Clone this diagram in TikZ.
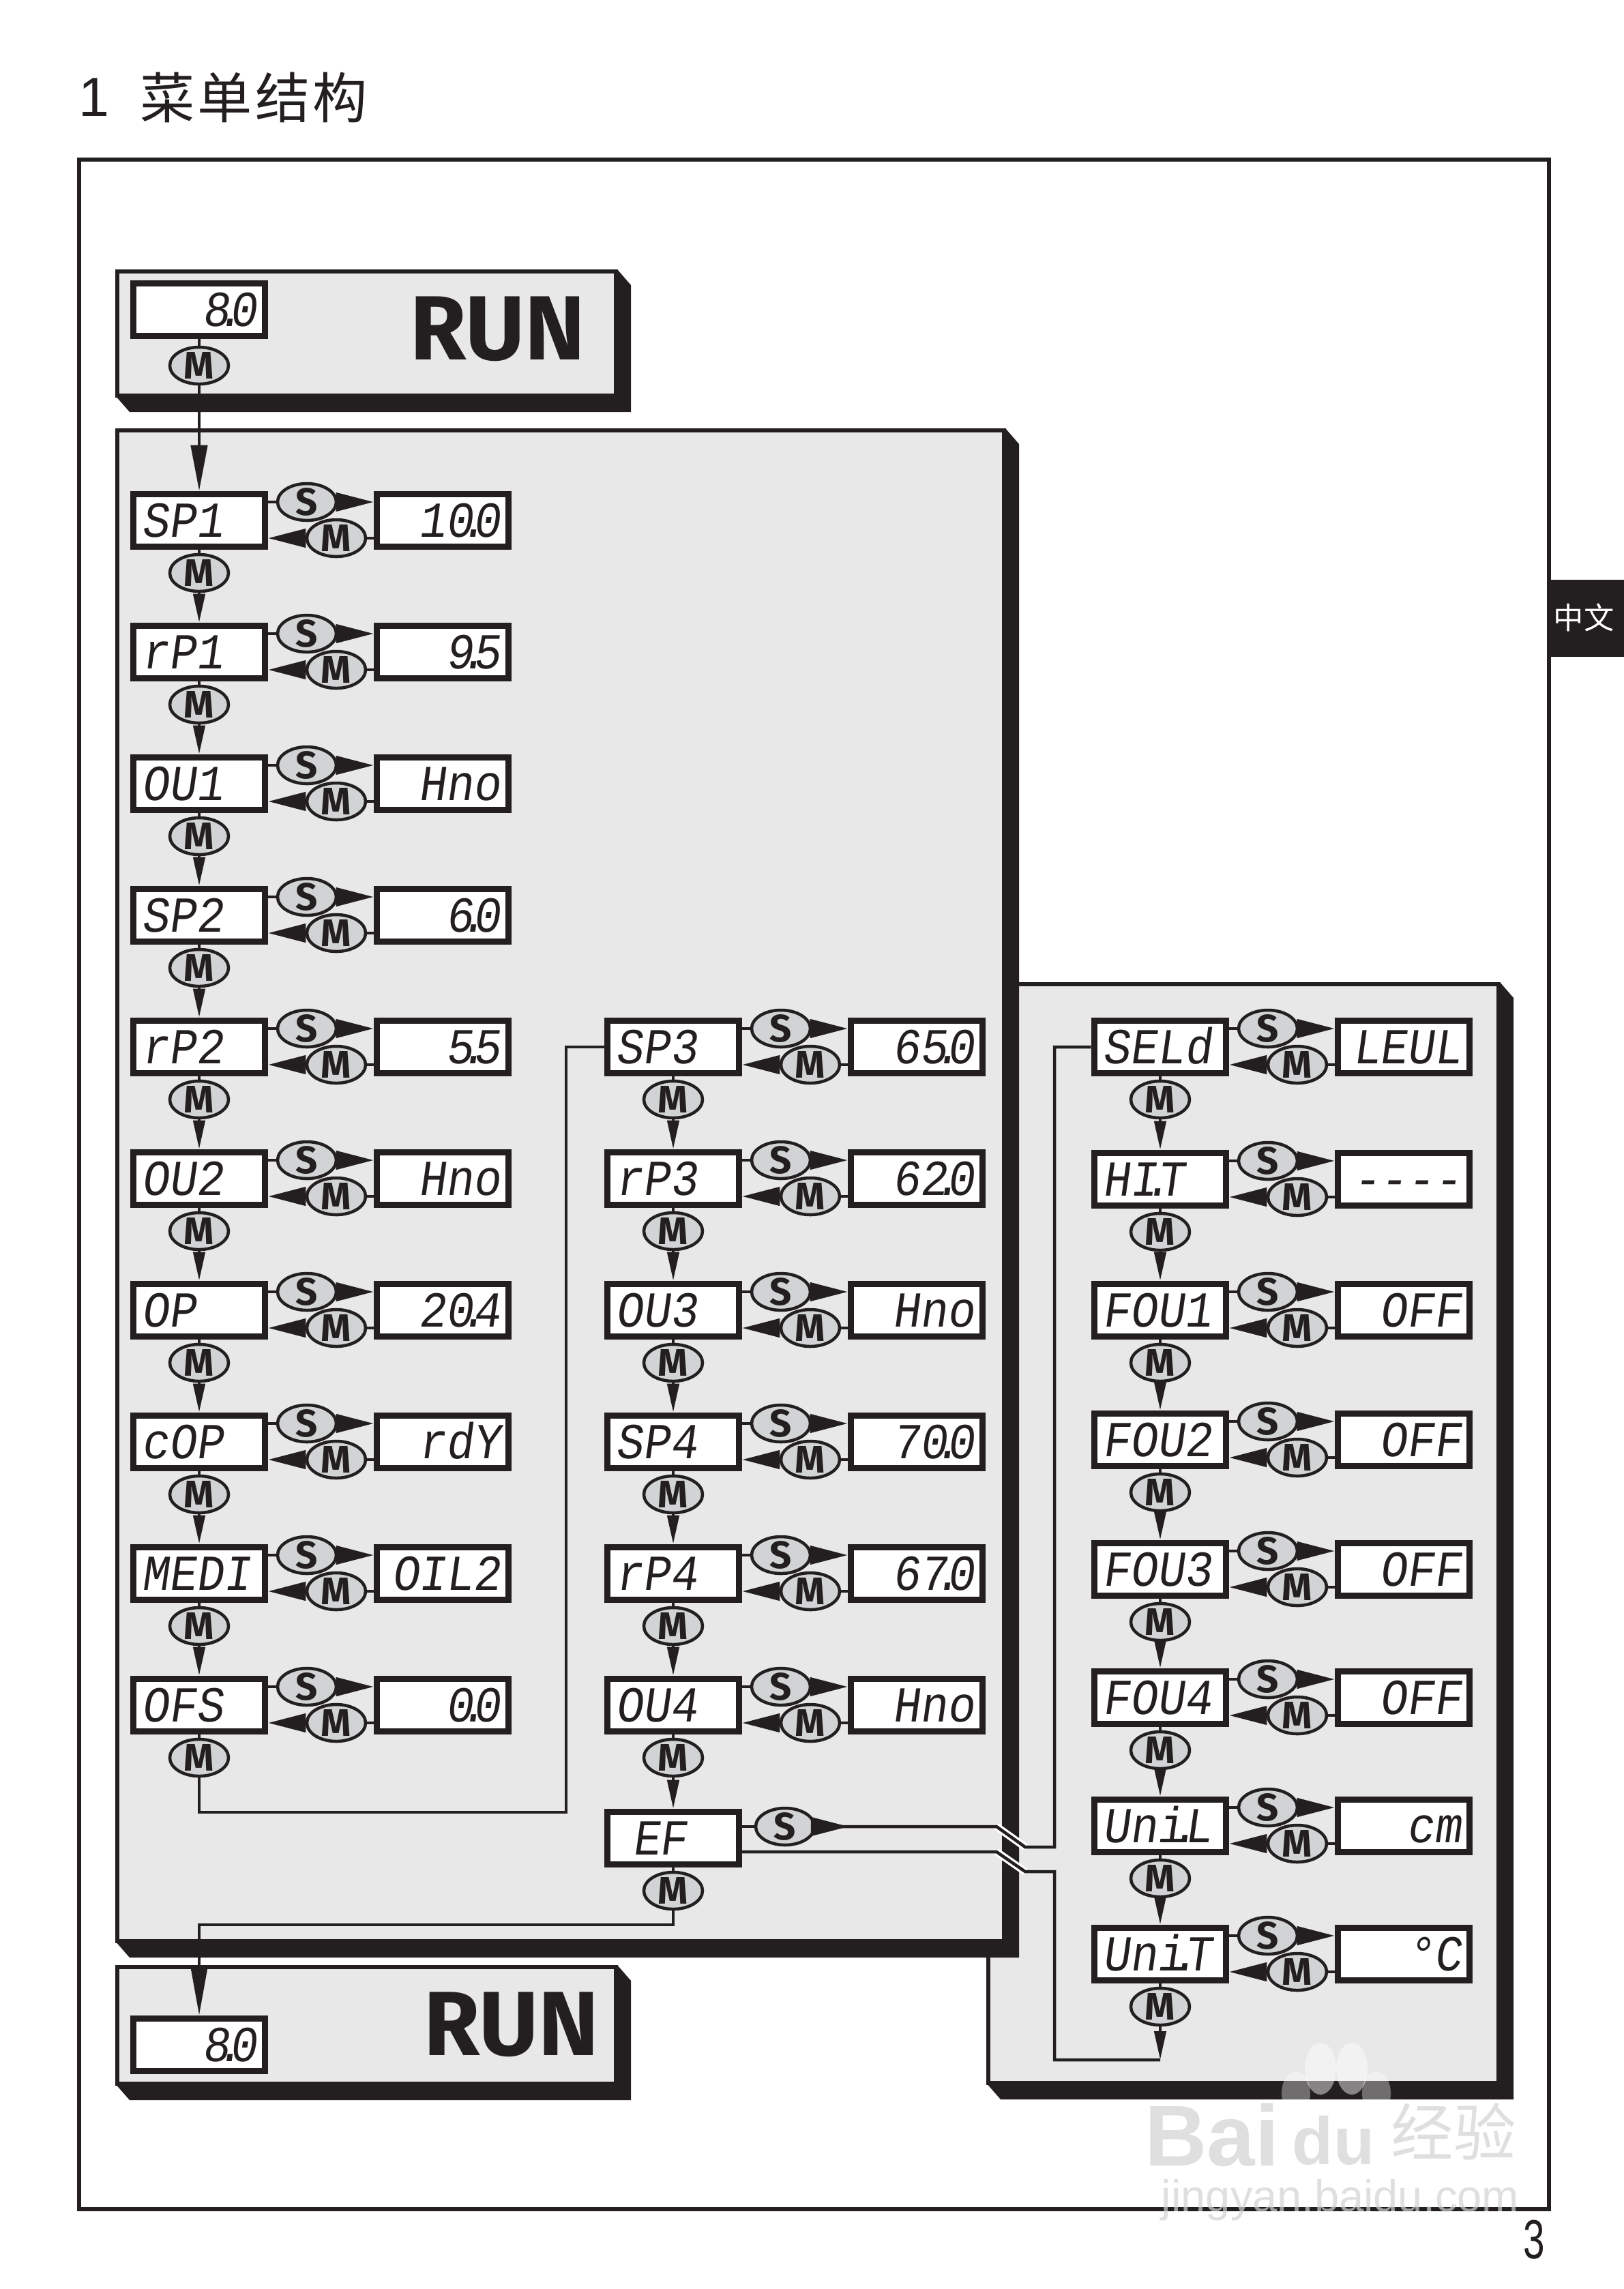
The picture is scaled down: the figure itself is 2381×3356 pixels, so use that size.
\documentclass[tikz,border=0pt]{standalone}
\usepackage{fontspec}
\setmainfont{Liberation Sans}
\setsansfont{Fira Sans}
\newfontfamily\cjkfont{Noto Sans CJK SC}
\newfontfamily\lcdfont[FakeSlant=0.14,FakeStretch=0.9]{Liberation Mono}
\newfontfamily\pagefont[FakeStretch=0.7]{Liberation Sans}
\usetikzlibrary{arrows.meta,shapes.geometric}

\definecolor{ink}{HTML}{231F20}
\definecolor{panelgray}{HTML}{E8E8E9}
\definecolor{keygray}{HTML}{D1D3D4}

\newcommand{\dec}{\makebox[0pt]{.}}

\newcommand{\shadowpanel}[4]{
  \fill[ink] (#1-3,#4) -- ({#1+18},{#4+24}) -- ({#3+22},{#4+24}) -- ({#3+22},{#2+20}) -- ({#3+2},#2-3) -- cycle;
  \draw[panel] (#1,#2) rectangle (#3,#4);
}

\newcommand{\menurow}[5]{
  \node[lcdlabel] (#1) at (#2,#3) {#4};
  \node[lcdvalue] (val#1) at ({#2+357},#3) {#5};
  \node[key] (keyS#1) at ({#2+158},{#3-27}) {S};
  \node[key] (keyM#1) at ({#2+201},{#3+26}) {M};
  \node[key] (next#1) at (#2,{#3+77}) {M};
  \draw[wire] (#1.east |- keyS#1) -- (keyS#1);
  \draw[sidearrow] (keyS#1) -- (val#1.west |- keyS#1);
  \draw[wire] (val#1.west |- keyM#1) -- (keyM#1);
  \draw[sidearrow] (keyM#1) -- (#1.east |- keyM#1);
  \draw[wire] (#1) -- (next#1);
}

\tikzset{
  lcdlabel/.style={draw=ink, fill=white, line width=.095cm, inner xsep=.12cm, inner ysep=.14cm,
    text width=1.69cm, text height=.49cm, text depth=0pt, align=left,
    font=\lcdfont\fontsize{21}{21}\selectfont, text=ink},
  lcdvalue/.style={lcdlabel, align=right},
  key/.style={ellipse, draw=ink, fill=keygray, line width=.045cm, inner sep=-1pt,
    minimum width=.86cm, minimum height=.54cm, text=ink,
    font=\sffamily\bfseries\fontsize{16}{16}\selectfont},
  wire/.style={draw=ink, line width=.045cm},
  panel/.style={draw=ink, fill=panelgray, line width=.055cm},
  downarrow/.style={wire, -{Triangle[length=.42cm,width=.17cm]}},
  sidearrow/.style={wire, -{Triangle[length=.55cm,width=.27cm]}},
  runlabel/.style={text=ink, font=\sffamily\bfseries\fontsize{38}{38}\selectfont},
  sitemark/.style={text=gray!35, opacity=.7}
}

\begin{document}
\begin{tikzpicture}[x=.01cm, y=-.01cm, line join=miter]
  \useasboundingbox (0,0) rectangle (2381,3356);
  \fill[white] (0,0) rectangle (2381,3356);

  \node[anchor=west, text=ink, font=\fontsize{23}{23}\selectfont] (chapter) at (103,143) {1};
  \node[anchor=west, text=ink, font=\cjkfont\fontsize{22.8}{23}\selectfont] (title) at (193,143)
    {菜\hspace{1.2pt}单\hspace{1.2pt}结\hspace{1.2pt}构};
  \draw[ink, line width=.055cm] (116,234) rectangle (2271,3239);
  \fill[ink] (2268,850) rectangle (2381,963);
  \node[text=white, font=\cjkfont\fontsize{12.6}{13}\selectfont] (tab) at (2322,905) {中文};

  \shadowpanel{1449}{1443}{2197}{3054}
  \shadowpanel{172}{631}{1472}{2846}
  \shadowpanel{172}{398}{903}{580}
  \shadowpanel{172}{2884}{903}{3055}

  \node[lcdvalue] (dispA) at (292,454) {8\dec 0};
  \node[key] (nextA) at (292,536) {M};
  \node[lcdvalue] (dispB) at (292,2998) {8\dec 0};
  \node[runlabel] (runA) at (730,482) {RUN};
  \node[runlabel] (runB) at (750,2968) {RUN};

  \foreach \id/\cy/\lab/\val in {
    SPa/763/SP1/10\dec 0, RPa/956/rP1/9\dec 5, OUa/1149/OU1/Hno, SPb/1342/SP2/6\dec 0,
    RPb/1535/rP2/5\dec 5, OUb/1728/OU2/Hno, OPa/1921/OP/20\dec 4, COP/2114/cOP/rdY,
    MEDI/2307/MEDI/OIL2, OFS/2500/OFS/0\dec 0}
    {\menurow{\id}{292}{\cy}{\lab}{\val}}

  \foreach \id/\cy/\lab/\val in {
    SPc/1535/SP3/65\dec 0, RPc/1728/rP3/62\dec 0, OUc/1921/OU3/Hno, SPd/2114/SP4/70\dec 0,
    RPd/2307/rP4/67\dec 0, OUd/2500/OU4/Hno}
    {\menurow{\id}{987}{\cy}{\lab}{\val}}

  \foreach \id/\cy/\lab/\val in {
    SELd/1535/SELd/LEUL, HIT/1729/HI\dec T/----, FOUa/1921/FOU1/OFF, FOUb/2111/FOU2/OFF,
    FOUc/2301/FOU3/OFF, FOUd/2489/FOU4/OFF, UniL/2677/Uni\dec L/cm, UniT/2865/Uni\dec T/°C}
    {\menurow{\id}{1701}{\cy}{\lab}{\val}}

  \node[lcdlabel] (EF) at (987,2695) {\ EF};
  \node[key] (keySEF) at (1151,2678) {S};
  \node[key] (nextEF) at (987,2772) {M};

  \foreach \a/\b in {SPa/RPa, RPa/OUa, OUa/SPb, SPb/RPb, RPb/OUb, OUb/OPa, OPa/COP, COP/MEDI, MEDI/OFS,
    SPc/RPc, RPc/OUc, OUc/SPd, SPd/RPd, RPd/OUd, OUd/EF,
    SELd/HIT, HIT/FOUa, FOUa/FOUb, FOUb/FOUc, FOUc/FOUd, FOUd/UniL, UniL/UniT}
    \draw[downarrow] (next\a) -- (\b);

  \coordinate (lowA) at (830,2657);
  \coordinate (turnA) at (292,2822);
  \coordinate (tipS) at (1244,2678);
  \coordinate (bendA) at (1461,2678);
  \coordinate (bendB) at (1503,2708);
  \coordinate (riseS) at (1546,2708);
  \coordinate (exitEF) at (1086,2715);
  \coordinate (bendC) at (1461,2715);
  \coordinate (bendD) at (1503,2744);
  \coordinate (dropEF) at (1546,2744);
  \coordinate (endT) at (1701,3020);

  \draw[wire] (dispA) -- (nextA);
  \draw[wire, -{Triangle[length=.67cm,width=.24cm]}] (nextA) -- (SPa);
  \draw[wire] (nextOFS) |- (lowA) |- (SPc);
  \draw[wire] (EF) -- (nextEF);
  \draw[wire, -{Triangle[length=.71cm,width=.24cm]}] (nextEF) |- (turnA) -- (dispB);
  \draw[wire] (EF.east |- keySEF) -- (keySEF);
  \draw[sidearrow] (keySEF) -- (tipS);
  \draw[white, line width=.11cm] (bendA) -- (bendB);
  \draw[white, line width=.11cm] (bendC) -- (bendD);
  \draw[wire] (keySEF) -- (bendA) -- (bendB) -- (riseS) |- (SELd);
  \draw[wire] (exitEF) -- (bendC) -- (bendD) -- (dropEF) |- (endT);
  \draw[downarrow] (nextUniT) -- (endT);

  \fill[white, opacity=.45] (1936,3033) ellipse (23 and 38);
  \fill[white, opacity=.45] (1982,3033) ellipse (23 and 38);
  \fill[white, opacity=.35] (1900,3069) ellipse (21 and 32);
  \fill[white, opacity=.35] (2018,3069) ellipse (21 and 32);
  \node[sitemark, font=\bfseries\fontsize{36}{36}\selectfont] (markA) at (1777,3130) {Bai};
  \node[sitemark, font=\bfseries\fontsize{28}{28}\selectfont] (markB) at (1955,3138) {du};
  \node[sitemark, font=\cjkfont\fontsize{26}{26}\selectfont] (markC) at (2131,3125) {经验};
  \node[sitemark, font=\fontsize{18.5}{19}\selectfont] (markD) at (1965,3226) {jingyan.baidu.com};
  \node[text=ink, font=\pagefont\fontsize{23}{23}\selectfont] (pagenum) at (2249,3284) {3};
\end{tikzpicture}
\end{document}
